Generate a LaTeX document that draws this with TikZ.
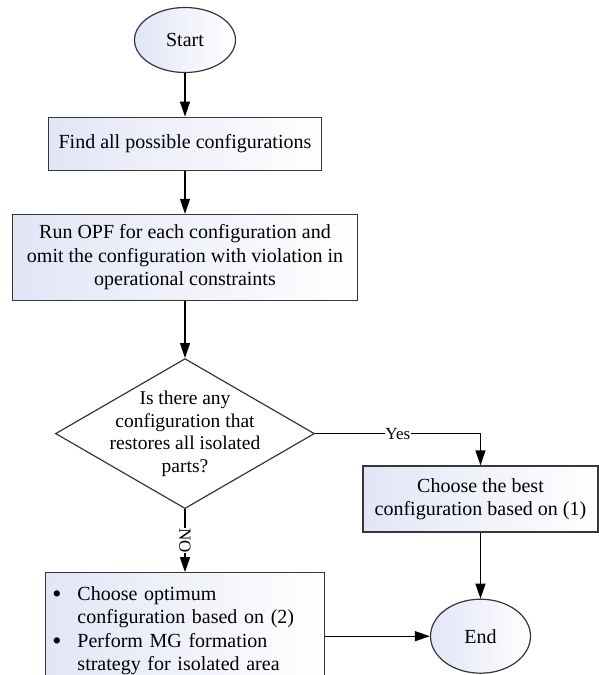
\documentclass[tikz,border=0pt]{standalone}
\usepackage{fontspec}
\setmainfont{Liberation Serif}
\usepackage{tikz}
\usetikzlibrary{positioning,shapes.geometric,arrows.meta}

\definecolor{boxfill}{RGB}{226,229,246}
\definecolor{boxline}{RGB}{55,55,55}

\newcommand{\itembullet}{\makebox[25pt][l]{\raisebox{-2pt}{\fontsize{26}{23.5}\selectfont\textbullet}}}

\tikzset{
	stepbox/.style={rectangle, draw=boxline, line width=1.2pt, left color=boxfill, right color=white, align=center, inner sep=2pt},
	terminal/.style={ellipse, draw=boxline, line width=1.2pt, left color=boxfill, right color=white, inner sep=0pt, minimum width=101pt, minimum height=65pt},
	question/.style={diamond, draw=boxline, line width=1.2pt, fill=white, aspect=1.727, minimum width=259pt, minimum height=150pt, inner sep=-8pt, align=center, font=\fontsize{19.5}{22.5}\selectfont},
	flow/.style={-{Triangle[length=15pt,width=10pt]}, line width=1.2pt, black},
	answer/.style={fill=white, inner sep=0.5pt, font=\fontsize{17}{20}\selectfont}
}

\begin{document}
	\begin{tikzpicture}[font=\fontsize{20}{23.5}\selectfont]
		\clip (-185pt,40pt) rectangle (414pt,-635pt);
		\begin{scope}
			\node(start) [terminal] {Start};
			\node(find) [below=43.5pt of start, stepbox, minimum width=273pt, minimum height=53pt] {Find all possible configurations};
			\node(run) [below=43pt of find, stepbox, minimum width=345pt, minimum height=86pt] {Run OPF for each configuration and\\omit the configuration with violation in\\operational constraints};
			\node(check) [below=57pt of run, question] {Is there any\\configuration that\\restores all isolated\\parts?};
			\node(choose) [stepbox, minimum width=235pt, minimum height=66pt] at (295.5pt,-459pt) {Choose the best\\configuration based on (1)};
			\node(end) [below=66pt of choose, terminal, minimum width=100pt, minimum height=74pt] {End};
			\node(options) [below=63pt of check, stepbox, text width=265pt, minimum height=116pt, inner xsep=7pt, align=left]
				{\itembullet Choose optimum\\
				 \hspace*{25pt}configuration based on (2)\\
				 \itembullet Perform MG formation\\
				 \hspace*{25pt}strategy for isolated area};
			\path[flow]
				(start)  edge (find)
				(find)   edge (run)
				(run)    edge (check)
				(choose) edge (end);
			\draw[flow] (check) -| node [answer, pos=0.25] {Yes} (choose);
			\draw[flow] (check) -- node [answer, midway, rotate=-90] {NO} (options);
			\draw[flow] (options.east |- end) -- (end);
		\end{scope}
	\end{tikzpicture}
\end{document}
